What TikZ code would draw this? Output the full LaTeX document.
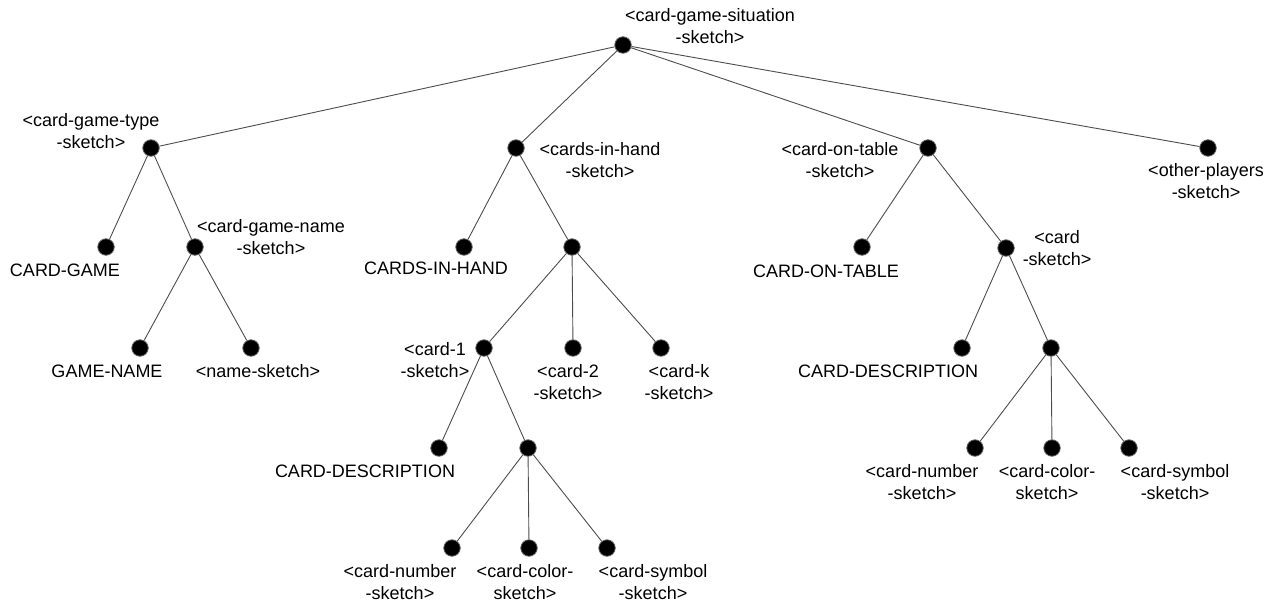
\documentclass[tikz,border=0pt]{standalone}
\usepackage{fontspec}
\setmainfont{Liberation Sans}
\begin{document}
\begin{tikzpicture}[x=1pt,y=-1pt,
  dot/.style={circle,fill=black,draw=black!60,line width=0.8pt,minimum size=16.5pt,inner sep=0pt},
  lbl/.style={align=center,inner sep=0pt,font=\fontsize{18}{21.6}\selectfont},
  edge/.style={draw=black!70,line width=0.9pt}]
\useasboundingbox (0,0) rectangle (1273,605);
% dots
\node[dot] (root) at (623,45) {};
\node[dot] (cgt) at (151,148) {};
\node[dot] (cih) at (516,148) {};
\node[dot] (cot) at (928,148) {};
\node[dot] (op) at (1208,148) {};
\node[dot] (cg) at (106,247) {};
\node[dot] (cgn) at (195,247) {};
\node[dot] (gn) at (140,348) {};
\node[dot] (ns) at (251,348) {};
\node[dot] (cihl) at (464,247) {};
\node[dot] (cards) at (572,247) {};
\node[dot] (c1) at (484,348) {};
\node[dot] (c2) at (573,348) {};
\node[dot] (ck) at (661,348) {};
\node[dot] (cdl) at (439,448) {};
\node[dot] (c1d) at (528,448) {};
\node[dot] (bl1) at (452,548) {};
\node[dot] (bl2) at (529,548) {};
\node[dot] (bl3) at (607,548) {};
\node[dot] (cotl) at (862,247) {};
\node[dot] (card) at (1006,248) {};
\node[dot] (cdr) at (962,348) {};
\node[dot] (cd) at (1051,348) {};
\node[dot] (br1) at (975,448) {};
\node[dot] (br2) at (1052,448) {};
\node[dot] (br3) at (1129,448) {};
% edges
\foreach \a/\b in {root/cgt,root/cih,root/cot,root/op,cgt/cg,cgt/cgn,cgn/gn,cgn/ns,
  cih/cihl,cih/cards,cards/c1,cards/c2,cards/ck,c1/cdl,c1/c1d,c1d/bl1,c1d/bl2,c1d/bl3,
  cot/cotl,cot/card,card/cdr,card/cd,cd/br1,cd/br2,cd/br3}
  \draw[edge] (\a) -- (\b);
% labels
\node[lbl] (Lroot) at (710,26) {<card-game-situation\\-sketch>};
\node[lbl] (Lcgt) at (91,131) {<card-game-type\\-sketch>};
\node[lbl] (Lcih) at (600,160) {<cards-in-hand\\-sketch>};
\node[lbl] (Lcot) at (840,160) {<card-on-table\\-sketch>};
\node[lbl] (Lop) at (1206,181) {<other-players\\-sketch>};
\node[lbl] (Lcg) at (65,270) {CARD-GAME};
\node[lbl] (Lcgn) at (271,237) {<card-game-name\\-sketch>};
\node[lbl] (Lgn) at (107,371) {GAME-NAME};
\node[lbl] (Lns) at (258,371) {<name-sketch>};
\node[lbl] (Lcihl) at (436,268) {CARDS-IN-HAND};
\node[lbl] (Lc1) at (435,360) {<card-1\\-sketch>};
\node[lbl] (Lc2) at (568,382) {<card-2\\-sketch>};
\node[lbl] (Lck) at (679,382) {<card-k\\-sketch>};
\node[lbl] (Lcdl) at (365,471) {CARD-DESCRIPTION};
\node[lbl] (Lbl1) at (400,582) {<card-number\\-sketch>};
\node[lbl] (Lbl2) at (525,582) {<card-color-\\sketch>};
\node[lbl] (Lbl3) at (653,582) {<card-symbol\\-sketch>};
\node[lbl] (Lcotl) at (826,271) {CARD-ON-TABLE};
\node[lbl] (Lcard) at (1057,248) {<card\\-sketch>};
\node[lbl] (Lcdr) at (888,371) {CARD-DESCRIPTION};
\node[lbl] (Lbr1) at (922,482) {<card-number\\-sketch>};
\node[lbl] (Lbr2) at (1047,482) {<card-color-\\sketch>};
\node[lbl] (Lbr3) at (1175,482) {<card-symbol\\-sketch>};
\end{tikzpicture}
\end{document}
